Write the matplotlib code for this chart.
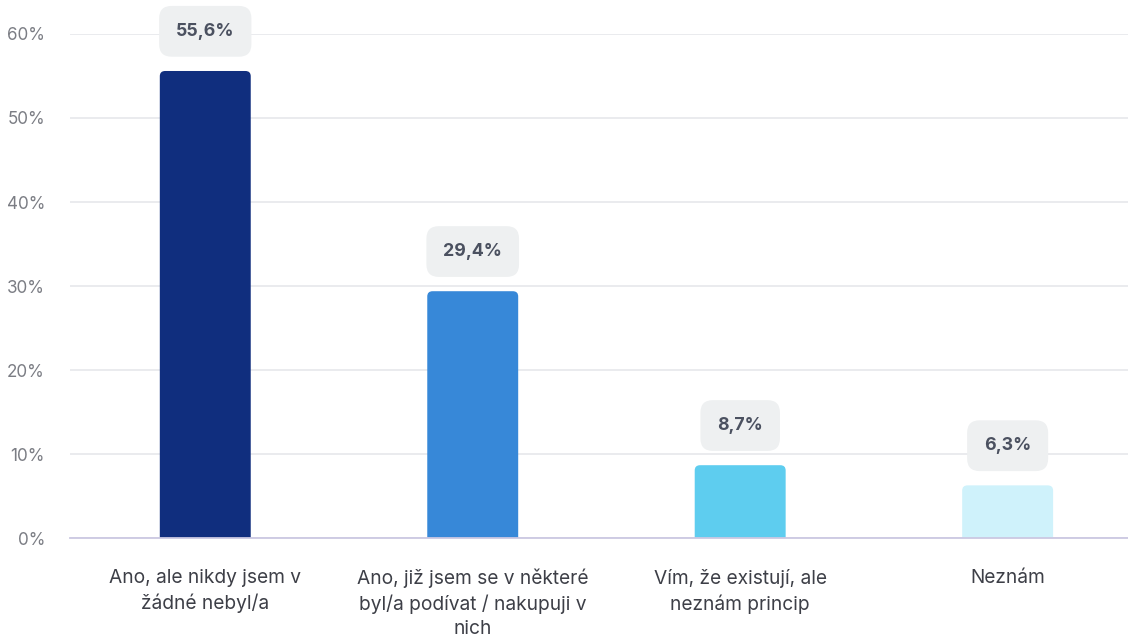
import matplotlib
matplotlib.use("Agg")
import matplotlib.pyplot as plt
from matplotlib.patches import FancyBboxPatch
from matplotlib.ticker import FuncFormatter

categories = [
    "Ano, ale nikdy jsem v\nžádné nebyl/a",
    "Ano, již jsem se v některé\nbyl/a podívat / nakupuji v\nnich",
    "Vím, že existují, ale\nneznám princip",
    "Neznám",
]
values = [55.6, 29.4, 8.7, 6.3]
colors = ["#102e7e", "#3788d8", "#5ecdef", "#cff2fb"]
yticks = [0, 10, 20, 30, 40, 50, 60]

plt.rcParams["font.family"] = ["Inter", "DejaVu Sans"]

fig = plt.figure(figsize=(11.28, 6.4), dpi=100)
ax = fig.add_axes([0.062, 0.159, 0.938, 0.788])

x = list(range(len(categories)))
bars = ax.bar(x, values, width=0.34, color=colors)

ax.set_xlim(-0.506, 3.45)
ax.set_ylim(0, 60)

# replace plain bars with top-rounded ones
rad_x = 0.02
for b, c in zip(bars, colors):
    b.set_visible(False)
    x0, w, h = b.get_x(), b.get_width(), b.get_height()
    p = FancyBboxPatch((x0 + rad_x, -3), w - 2 * rad_x, h + 3 - 0.63,
                       boxstyle=f"round,pad={rad_x},rounding_size={rad_x}",
                       mutation_aspect=31, facecolor=c, edgecolor="none",
                       clip_on=True, zorder=3)
    ax.add_patch(p)

for xi, v in zip(x, values):
    ax.annotate(f"{v:.1f}%".replace(".", ","), xy=(xi, v), xytext=(0, 28.5),
                textcoords="offset points", ha="center", va="center",
                fontsize=12.8, fontweight="bold", color="#4b5160", zorder=5,
                bbox=dict(boxstyle="round,pad=0.95,rounding_size=0.7",
                          facecolor="#eef0f1", edgecolor="none"),
                annotation_clip=False)

ax.set_yticks(yticks)
ax.yaxis.set_major_formatter(FuncFormatter(lambda v, p: f"{int(v)}%"))
ax.set_xticks(x)
ax.set_xticklabels(categories, fontsize=13.8, color="#3d3f47", linespacing=1.42)
ax.tick_params(axis="x", length=0, pad=22)
ax.tick_params(axis="y", length=0, pad=18, labelsize=12.3, labelcolor="#7b7d84")

ax.grid(axis="y", color="#e4e5ea", linewidth=1.1, zorder=0)
ax.set_axisbelow(True)
for s in ["top", "right", "left"]:
    ax.spines[s].set_visible(False)
ax.spines["bottom"].set_color("#cbc8e2")
ax.spines["bottom"].set_linewidth(1.3)
ax.spines["bottom"].set_zorder(4)

fig.savefig("out.png", dpi=100, facecolor="white")
